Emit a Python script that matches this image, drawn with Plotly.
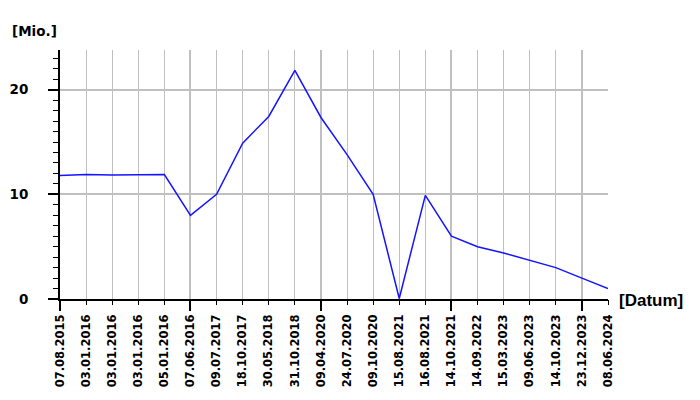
import plotly.graph_objects as go

dates = ["07.08.2015", "03.01.2016", "03.01.2016", "03.01.2016", "05.01.2016",
         "07.06.2016", "09.07.2017", "18.10.2017", "30.05.2018", "31.10.2018",
         "09.04.2020", "24.07.2020", "09.10.2020", "15.08.2021", "16.08.2021",
         "14.10.2021", "14.09.2022", "15.03.2023", "09.06.2023", "14.10.2023",
         "23.12.2023", "08.06.2024"]
values = [11.8, 11.9, 11.85, 11.9, 11.9,
          8.0, 10.0, 14.9, 17.45, 21.85,
          17.35, 13.8, 10.0, 0.05, 9.9,
          6.0, 5.0, 4.4, 3.7, 3.0,
          2.0, 1.0]
y_major = [0, 10, 20]
x_idx = list(range(len(dates)))
x_major = [i for i in x_idx if i % 5 == 0]

XFONT = dict(family="DejaVu Sans", size=11.5, color="black", weight="bold")
YFONT = dict(family="DejaVu Sans", size=13.5, color="black", weight="bold")
MIOFONT = dict(family="DejaVu Sans", size=13.5, color="black", weight="bold")
DATFONT = dict(family="Liberation Sans, Arial", size=17, color="black", weight="bold")
GRID = "#c0c0c0"

fig = go.Figure()
fig.add_trace(go.Scatter(x=x_idx, y=values, mode="lines",
                         line=dict(color="#1414ff", width=1.5),
                         showlegend=False, hoverinfo="skip"))
fig.add_trace(go.Scatter(x=[None], y=[None], xaxis="x2", showlegend=False, hoverinfo="skip"))

rng = [0, len(dates) - 1]
fig.update_layout(
    width=700, height=400,
    margin=dict(l=60, r=92, t=50, b=101, autoexpand=False),
    paper_bgcolor="white", plot_bgcolor="white",
    xaxis=dict(range=rng, tickmode="array", tickvals=x_major, automargin=False,
               showticklabels=False, ticks="outside", ticklen=10, tickwidth=2,
               tickcolor="black", showgrid=True, gridcolor=GRID, gridwidth=2,
               showline=True, linecolor="black", linewidth=2, zeroline=False),
    xaxis2=dict(range=rng, overlaying="x", side="bottom", anchor="y", automargin=False,
                tickmode="array", tickvals=x_idx, ticktext=dates, tickangle=-90,
                ticks="outside", ticklen=5, tickwidth=1, tickcolor="black",
                ticklabelstandoff=5, tickfont=XFONT,
                showgrid=True, gridcolor=GRID, gridwidth=1,
                showline=False, zeroline=False),
    yaxis=dict(range=[0, 23.8], tickmode="array", tickvals=y_major, automargin=False,
               ticks="outside", ticklen=10, tickwidth=2, tickcolor="black",
               ticklabelstandoff=17, tickfont=YFONT,
               minor=dict(dtick=1, ticklen=5, tickwidth=1, tickcolor="black",
                          ticks="outside", showgrid=False),
               showgrid=True, gridcolor=GRID, gridwidth=2,
               showline=True, linecolor="black", linewidth=2, zeroline=False),
    annotations=[
        dict(text="[Mio.]", xref="paper", yref="paper", x=-0.092, y=1.0763,
             xanchor="left", yanchor="middle", showarrow=False, font=MIOFONT),
        dict(text="[Datum]", xref="paper", yref="paper", x=1.0, y=0.0,
             xanchor="left", yanchor="middle", xshift=9, yshift=-1.5,
             showarrow=False, font=DATFONT),
    ],
)

fig.write_html("out.html", config={"displayModeBar": False},
               post_script="document.body.style.margin='0';")
